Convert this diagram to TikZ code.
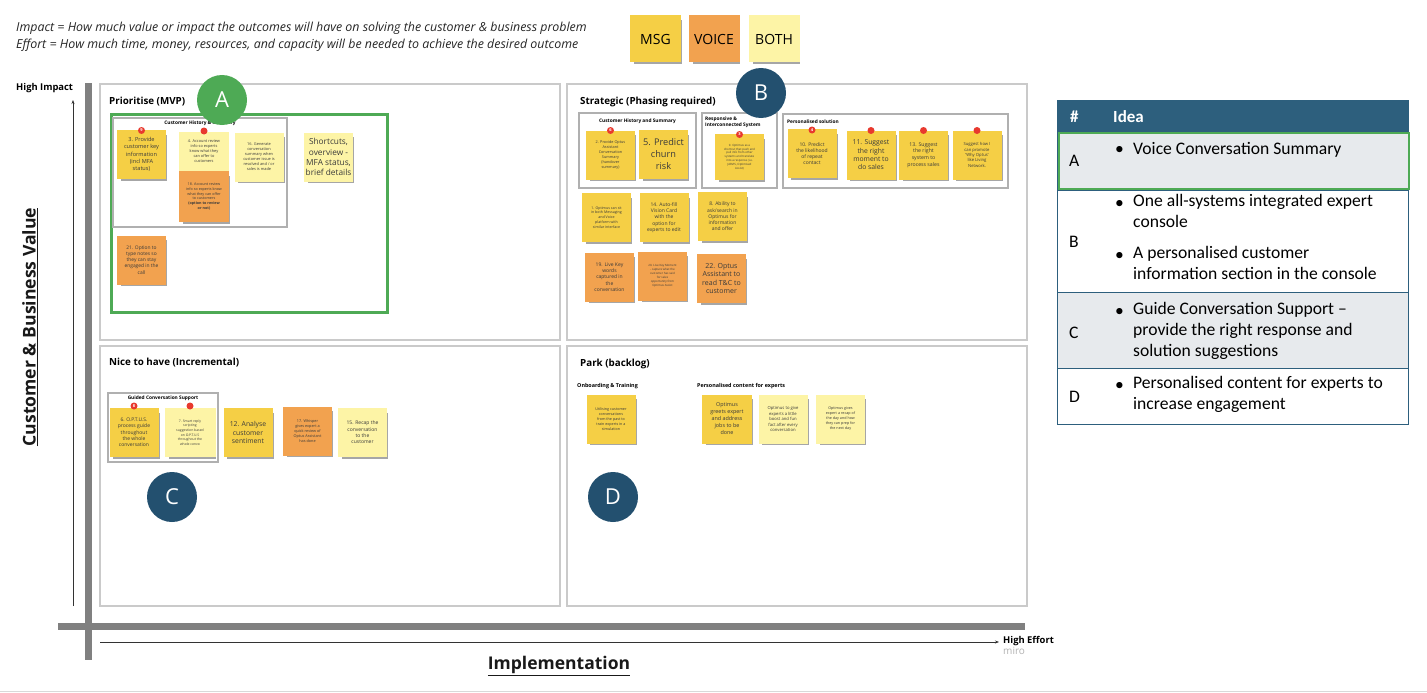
\documentclass[tikz,border=0pt]{standalone}
\usepackage{fontspec}
\setmainfont{Open Sans}
\newfontfamily\carl{Carlito}
\usetikzlibrary{shadows,arrows.meta}
\definecolor{stY}{HTML}{F5CF45}
\definecolor{stO}{HTML}{F2A24F}
\definecolor{stL}{HTML}{FDF4A6}
\definecolor{quadline}{HTML}{CACACA}
\definecolor{grpline}{HTML}{B0B0B0}
\definecolor{mvpgreen}{HTML}{4EAA55}
\definecolor{navy}{HTML}{23506F}
\definecolor{axisgray}{HTML}{808080}
\definecolor{hdr}{HTML}{2D5F7D}
\definecolor{rowgray}{HTML}{E7EAED}
\definecolor{dotred}{HTML}{E8392E}
\definecolor{ink}{HTML}{3A3A3A}
\newcommand\fsz[2]{\fontsize{#1}{#2}\selectfont}
\tikzset{
  stickybase/.style={minimum width=49, minimum height=49, inner sep=0pt, align=center, text=ink},
  sticky/.style={stickybase, drop shadow={shadow scale=0.94, shadow yshift=-3.5pt, opacity=0.35, fill=black}},
  reddot/.style={circle, fill=dotred, minimum size=7, inner sep=0pt, text=white, font=\fsz{4}{4}\bfseries},
  quad/.style={draw=quadline, line width=1.2, fill=white},
  grp/.style={draw=grpline, line width=1.1},
  grptitle/.style={font=\fsz{4.8}{5.8}\bfseries, text=black, inner sep=0pt},
  qtitle/.style={font=\fsz{9.8}{11}\bfseries, text=black, anchor=west, inner sep=0pt},
  badge/.style={circle, minimum size=50, inner sep=0pt, text=white, font=\fsz{22}{22}},
  tbltxt/.style={font=\carl\fsz{17.6}{21}, text=black, anchor=west, inner sep=0pt, align=left},
  legend/.style={stickybase, minimum width=51, minimum height=47, font=\fsz{14}{14}, text=black, drop shadow={shadow scale=0.94, shadow yshift=-3.5pt, opacity=0.35, fill=black}},
  thinarrow/.style={draw=black!80, line width=0.8, -{Stealth[length=4pt,width=3pt]}}
}
\begin{document}
\begin{tikzpicture}[x=1pt,y=-1pt]
\useasboundingbox (0,0) rectangle (1427,693);
\fill[white] (0,0) rectangle (1427,693);
\draw[black!15, line width=1] (0,691) -- (1427,691);

% header texts
\node[anchor=west, inner sep=0pt, font=\fsz{12.4}{14}\itshape, text=black!85] (imp) at (16,28) {Impact = How much value or impact the outcomes will have on solving the customer \& business problem};
\node[anchor=west, inner sep=0pt, font=\fsz{12.4}{14}\itshape, text=black!85] (eff) at (16,45) {Effort = How much time, money, resources, and capacity will be needed to achieve the desired outcome};

\node[legend, fill=stY] (lmsg) at (655.5,39) {MSG};
\node[legend, fill=stO] (lvoice) at (714,39) {VOICE};
\node[legend, fill=stL] (lboth) at (774,39) {BOTH};

% quadrants
\draw[quad] (100,84) rectangle (560,340);
\draw[quad] (567,84) rectangle (1027,340);
\draw[quad] (100,346) rectangle (560,606);
\draw[quad] (567,346) rectangle (1027,606);

\node[qtitle] (tprio) at (109,102) {Prioritise (MVP)};
\node[qtitle] (tstrat) at (580,102) {Strategic (Phasing required)};
\node[qtitle] (tnice) at (109,363) {Nice to have (Incremental)};
\node[qtitle] (tpark) at (580,364) {Park (backlog)};

% axes
\fill[axisgray] (85,83) rectangle (92,660);
\fill[axisgray] (58,623) rectangle (1025,630);
\coordinate (vstart) at (73,606);
\coordinate (vend) at (73,100);
\draw[thinarrow] (vstart) -- (vend);
\coordinate (hstart) at (100,642);
\coordinate (hend) at (999,642);
\draw[thinarrow] (hstart) -- (hend);
\node[anchor=west, inner sep=0pt, font=\fsz{9.4}{10}\bfseries] (himp) at (16,88) {High Impact};
\node[anchor=west, inner sep=0pt, font=\fsz{9.4}{10}\bfseries] (heff) at (1003,641) {High Effort};
\node[anchor=west, inner sep=0pt, font=\fsz{10}{10}, text=black!30] (miro) at (1003,651) {miro};
\node[rotate=90, inner sep=0pt, font=\fsz{17.6}{20}\bfseries, text=black!90] (yl) at (30,327) {\underline{Customer \& Business Value}};
\node[inner sep=0pt, font=\fsz{17.5}{20}\bfseries, text=black!90] (xl) at (559,666) {\underline{Implementation}};

% ===== Prioritise =====
\draw[mvpgreen, line width=3] (111,114) rectangle (387,312);
\draw[grp] (113,118) rectangle (287,227);
\node[grptitle] (g1t) at (200,123) {Customer History \& Summary};

\node[sticky, fill=stY, font=\fsz{5.6}{7.2}] (n3) at (141.5,154.5) {3. Provide\\customer key\\information\\(incl MFA\\status)};
\node[reddot] at (141.5,130.5) {9};
\node[sticky, fill=stO, minimum width=50, minimum height=51, font=\fsz{3.7}{4.7}] (n18) at (204,196.5) {18. Account review\\info so experts know\\what they can offer\\to customers\\\textbf{(option to review}\\\textbf{or not)}};
\node[stickybase, fill=stL, minimum width=50, minimum height=39, font=\fsz{3.9}{5}] (n4) at (204,151.5) {4. Account review\\info so experts\\know what they\\can offer to\\customers};
\node[reddot] at (204,131) {};
\node[sticky, fill=stL, font=\fsz{3.9}{5}] (n16) at (259,157) {16. Generate\\conversation\\summary when\\customer issue is\\resolved and / or\\sales is made};
\node[sticky, fill=stL, font=\fsz{8.3}{10.2}] (nshort) at (328.5,157) {Shortcuts,\\overview -\\MFA status,\\brief details};
\node[sticky, fill=stO, font=\fsz{4.9}{6.2}] (n21) at (141.5,260) {21. Option to\\type notes so\\they can stay\\engaged in the\\call};

% ===== Strategic =====
\draw[grp] (579,113) rectangle (696,188);
\node[grptitle] (g2t) at (637.5,121) {Customer History and Summary};
\draw[grp] (702,113) rectangle (777,188);
\node[grptitle, anchor=north west, align=left] (g3t) at (705,116.5) {Responsive \&\\Interconnected System};
\draw[grp] (783,114) rectangle (1008,188);
\node[grptitle, anchor=west] (g4t) at (787,121.5) {Personalised solution};

\node[sticky, fill=stY, font=\fsz{3.8}{5}] (n2) at (610.5,155) {2. Provide Optus\\Assistant\\Conversation\\Summary\\(handover\\summary)};
\node[reddot] at (610.5,130.5) {6};
\node[sticky, fill=stY, font=\fsz{9.2}{12}] (n5) at (663.5,154.5) {5. Predict\\churn\\risk};
\node[sticky, fill=stY, minimum height=46, font=\fsz{2.9}{3.9}] (n9) at (739.5,157) {9. Optimus as a\\shortcut that push and\\pull info from other\\systems and translate\\into a response (i.e.\\JARVIS, Optimised\\Assist)};
\node[reddot] at (739.5,134.5) {3};
\node[sticky, fill=stY, font=\fsz{5}{6.2}] (n10) at (812,153.5) {10. Predict\\the likelihood\\of repeat\\contact};
\node[reddot] at (812,130) {4};
\node[sticky, fill=stY, font=\fsz{6.8}{8.3}] (n11) at (871,155) {11. Suggest\\the right\\moment to\\do sales};
\node[reddot] at (871,130.5) {};
\node[sticky, fill=stY, font=\fsz{5.2}{6.6}] (n13) at (923.5,155) {13. Suggest\\the right\\system to\\process sales};
\node[reddot] at (923.5,130.5) {};
\node[sticky, fill=stY, font=\fsz{4.2}{5.4}] (nsug) at (977,155) {Suggest how I\\can promote\\'Why Optus'\\like Living\\Network.};
\node[reddot] at (977,130.5) {};

\node[sticky, fill=stY, font=\fsz{3.6}{4.9}] (n1) at (606.5,217.5) {1. Optimus can sit\\in both Messaging\\and Voice\\platform with\\similar interface};
\node[sticky, fill=stY, font=\fsz{5}{6.3}] (n14) at (664,217.5) {14. Auto-fill\\Vision Card\\with the\\option for\\experts to edit};
\node[sticky, fill=stY, font=\fsz{5}{6.3}] (n8) at (722.5,216.5) {8. Ability to\\ask/search in\\Optimus for\\information\\and offer};
\node[sticky, fill=stO, font=\fsz{5}{6.3}] (n19) at (609.5,277) {19. Live Key\\words\\captured in\\the\\conversation};
\node[sticky, fill=stO, font=\fsz{2.9}{3.9}] (n20) at (662.5,276) {20. Live Key Moment\\- capture what the\\customer has said\\for sales\\opportunity from\\Optimus Assist};
\node[sticky, fill=stO, font=\fsz{7}{8.6}] (n22) at (721.5,278.5) {22. Optus\\Assistant to\\read T\&C to\\customer};

% ===== Nice to have =====
\draw[grp] (108,393) rectangle (218,462);
\node[grptitle] (g5t) at (163,398.5) {Guided Conversation Support};
\node[sticky, fill=stY, font=\fsz{5}{6.3}] (n6) at (134,432.5) {6. O.P.T.U.S.\\process guide\\throughout\\the whole\\conversation};
\node[reddot] at (134,406) {8};
\node[sticky, fill=stL, minimum width=51, font=\fsz{3.4}{4.6}] (n7) at (190,432.5) {7. Smart reply\\scripting\\suggestion based\\on O.P.T.U.S\\throughout the\\whole convo};
\node[reddot] at (190,406) {};
\node[sticky, fill=stY, font=\fsz{6.8}{8.5}] (n12) at (248,432.5) {12. Analyse\\customer\\sentiment};
\node[sticky, fill=stO, font=\fsz{3.8}{5}] (n17) at (307.5,431) {17. Whisper\\gives expert a\\quick review of\\Optus Assistant\\has done};
\node[sticky, fill=stL, font=\fsz{5}{6.3}] (n15) at (362.5,432.5) {15. Recap the\\conversation\\to the\\customer};

% ===== Park =====
\node[grptitle, anchor=west, font=\fsz{5.4}{6}\bfseries] (pk1) at (577,386) {Onboarding \& Training};
\node[grptitle, anchor=west, font=\fsz{5.4}{6}\bfseries] (pk2) at (697,386) {Personalised content for experts};
\node[sticky, fill=stY, font=\fsz{3.7}{4.9}] (np1) at (611,419) {Utilising customer\\conversations\\from the past to\\train experts in a\\simulation};
\node[sticky, fill=stY, minimum width=50, font=\fsz{5.4}{7}] (np2) at (727,419) {Optimus\\greets expert\\and address\\jobs to be\\done};
\node[sticky, fill=stL, font=\fsz{4.2}{5.5}] (np3) at (783,419) {Optimus to give\\experts a little\\boost and fun\\fact after every\\conversation};
\node[sticky, fill=stL, font=\fsz{3.7}{5}] (np4) at (840.5,419) {Optimus gives\\expert a recap of\\the day and how\\they can prep for\\the next day};

% ===== Badges =====
\node[badge, fill=mvpgreen] (bA) at (222,100) {A};
\node[badge, fill=navy] (bB) at (761,93) {B};
\node[badge, fill=navy] (bC) at (172,497) {C};
\node[badge, fill=navy] (bD) at (613,497) {D};

% ===== Table =====
\fill[hdr] (1057,100) rectangle (1408,132);
\fill[rowgray] (1057,132) rectangle (1408,190);
\fill[white] (1057,190) rectangle (1408,292);
\fill[rowgray] (1057,292) rectangle (1408,368);
\fill[white] (1057,368) rectangle (1408,424);
\draw[hdr, line width=0.9] (1057,100) rectangle (1408,424);
\draw[hdr, line width=0.9] (1057,190) -- (1408,190);
\draw[hdr, line width=0.9] (1057,292) -- (1408,292);
\draw[hdr, line width=0.9] (1057,368) -- (1408,368);
\draw[mvpgreen, line width=2.5] (1059,133) rectangle (1409,189);

\node[tbltxt, text=white, font=\carl\fsz{17}{20}\bfseries] (th1) at (1070,117) {\#};
\node[tbltxt, text=white, font=\carl\fsz{17}{20}\bfseries] (th2) at (1113,117) {Idea};

\node[tbltxt] (la) at (1069,161) {A};
\node[tbltxt] (ba1) at (1115,150) {\textbullet};
\node[tbltxt] (ta1) at (1133,150) {Voice Conversation Summary};

\node[tbltxt] (lb) at (1069,242) {B};
\node[tbltxt] (bb1) at (1115,204) {\textbullet};
\node[tbltxt, anchor=north west] (tb1) at (1133,194.5) {One all-systems integrated expert\\console};
\node[tbltxt] (bb2) at (1115,256) {\textbullet};
\node[tbltxt, anchor=north west] (tb2) at (1133,246.5) {A personalised customer\\information section in the console};

\node[tbltxt] (lc) at (1069,333) {C};
\node[tbltxt] (bc1) at (1115,312) {\textbullet};
\node[tbltxt, anchor=north west] (tc1) at (1133,302.5) {Guide Conversation Support \textendash\\provide the right response and\\solution suggestions};

\node[tbltxt] (ld) at (1069,397) {D};
\node[tbltxt] (bd1) at (1115,386) {\textbullet};
\node[tbltxt, anchor=north west] (td1) at (1133,376.5) {Personalised content for experts to\\increase engagement};
\end{tikzpicture}
\end{document}
